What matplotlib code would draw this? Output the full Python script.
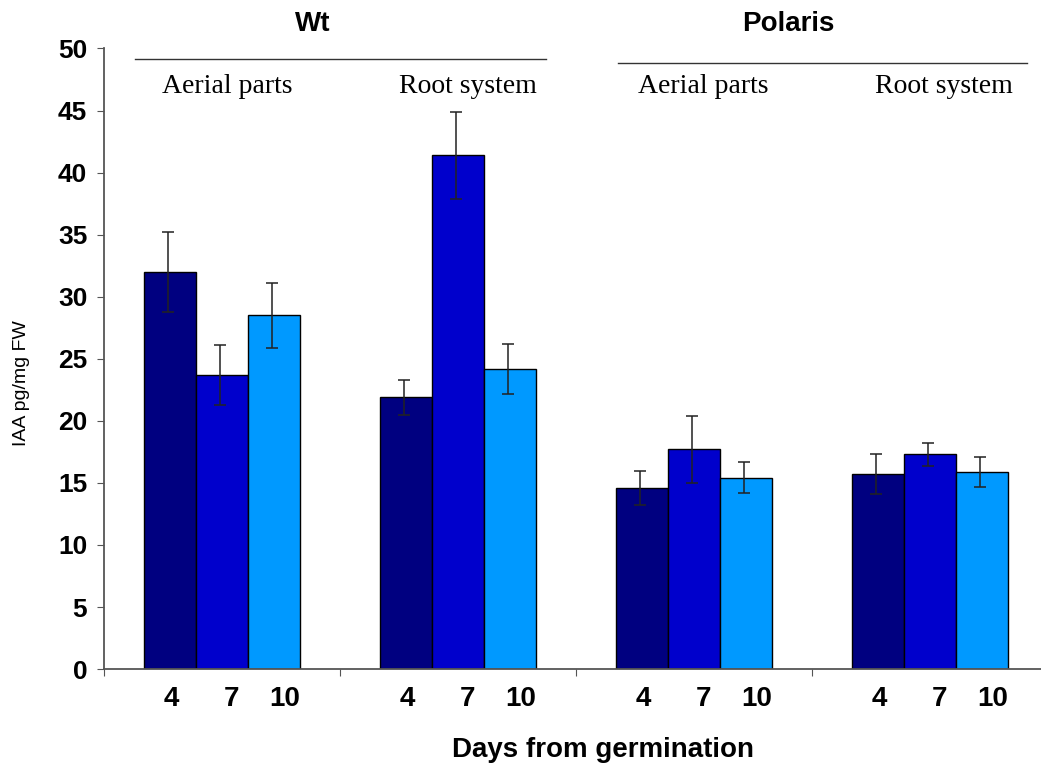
import matplotlib
matplotlib.use('Agg')
import matplotlib.pyplot as plt
import numpy as np

# IAA content, pg/mg FW
groups = ['Wt aerial', 'Wt root', 'Polaris aerial', 'Polaris root']
days = ['4', '7', '10']
values = {
    '4':  [32.0, 21.9, 14.6, 15.7],
    '7':  [23.7, 41.4, 17.7, 17.3],
    '10': [28.5, 24.2, 15.4, 15.9],
}
errors = {
    '4':  [3.2, 1.4, 1.35, 1.6],
    '7':  [2.4, 3.5, 2.7, 0.95],
    '10': [2.6, 2.0, 1.25, 1.2],
}
genotypes = ['Wt', 'Polaris']
tissues = ['Aerial parts', 'Root system']

COLORS = ['#000080', '#0000CC', '#0099FF']
AXIS_COLOR = '#555555'
SANS = 'Liberation Sans'
SERIF = 'Liberation Serif'

fig = plt.figure(figsize=(10.41, 7.78), dpi=100)
ax = fig.add_axes([0.0999, 0.140, 0.9001, 0.7977])

width = 0.22
x = np.arange(len(groups)) + 0.5
offsets = [-width, 0, width]
label_shift = [0.005, 0.04, 0.045]

for day, off, color in zip(days, offsets, COLORS):
    ax.bar(x + off, values[day], width, color=color, edgecolor='black',
           linewidth=1.0, zorder=2)
    ax.errorbar(x + off - 0.01, values[day], yerr=errors[day], fmt='none',
                ecolor='#222222', elinewidth=1.1, capsize=4.5, capthick=1.1,
                zorder=3)

ax.set_xlim(0, 3.97)
ax.set_ylim(0, 50)
ax.set_yticks(range(0, 51, 5))
ax.set_xticks([0, 1, 2, 3])
ax.set_xticklabels([])
minor_pos = np.concatenate([x + o + s for o, s in zip(offsets, label_shift)])
minor_lab = [d for d in days for _ in groups]
ax.set_xticks(minor_pos, minor=True)
ax.set_xticklabels(minor_lab, minor=True)
ax.tick_params(axis='x', which='minor', length=0, pad=12, labelsize=20)
ax.tick_params(axis='x', which='major', length=5, direction='out',
               color=AXIS_COLOR)
ax.tick_params(axis='y', length=5, direction='out', labelsize=19,
               color=AXIS_COLOR, pad=7)
for lab in ax.get_xticklabels(minor=True) + ax.get_yticklabels():
    lab.set_fontfamily(SANS)
    lab.set_fontweight('bold')

for side in ['top', 'right']:
    ax.spines[side].set_visible(False)
for side in ['left', 'bottom']:
    ax.spines[side].set_color(AXIS_COLOR)
    ax.spines[side].set_linewidth(1.3)

fig.text(22 / 1041, 1 - 383 / 778, 'IAA pg/mg FW', rotation=90,
         ha='center', va='center', fontsize=14, family=SANS)

# genotype headers with rules, tissue labels underneath
header_x = [0.886, 2.898]
rule_span = [(0.131, 1.873), (2.178, 3.911)]
rule_y = [49.15, 48.8]
for g, hx, (x0, x1), ry in zip(genotypes, header_x, rule_span, rule_y):
    ax.text(hx, 52.0, g, ha='center', va='center', fontsize=20,
            fontweight='bold', family=SANS, clip_on=False)
    ax.plot([x0, x1], [ry, ry], color='#333333', lw=1.0, clip_on=False)

tissue_x = [0.521, 1.542, 2.538, 3.56]
for i, tx in enumerate(tissue_x):
    ax.text(tx, 46.9, tissues[i % 2], ha='center', va='center',
            fontsize=20, family=SERIF, clip_on=False)

fig.text(603 / 1041, 1 - 750 / 778, 'Days from germination', ha='center',
         va='center', fontsize=20, fontweight='bold', family=SANS)

plt.savefig('out.png', dpi=100)
plt.close()
